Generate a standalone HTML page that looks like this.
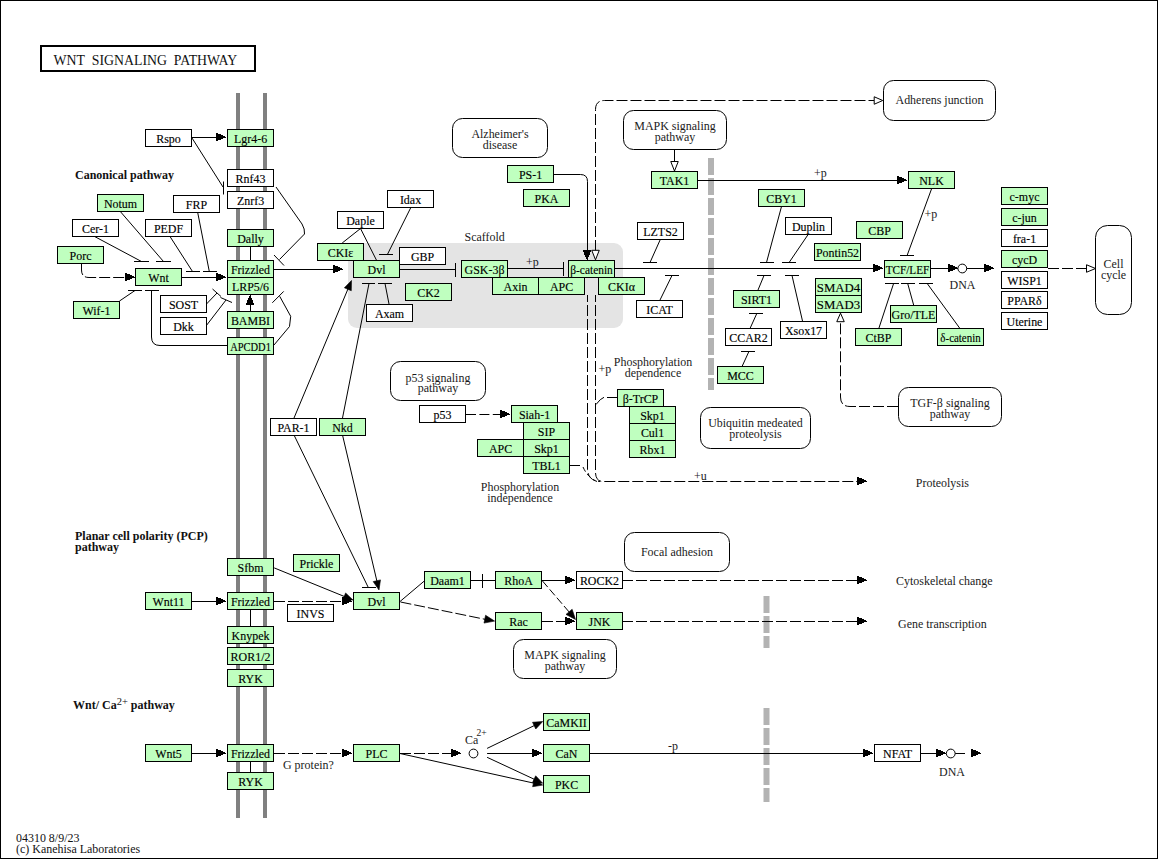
<!DOCTYPE html>
<html><head><meta charset="utf-8"><style>
html,body{margin:0;padding:0;background:#fff;}
svg{display:block;}
text{font-family:"Liberation Serif",serif;font-size:13px;}
.g{fill:#000;stroke:#000;stroke-width:0.15px;}
.m{fill:#1a1a1a;}
.l{fill:#1a1a1a;}
.b{font-size:12px;font-weight:bold;fill:#111;}
.f{fill:#111;}
.title{font-size:15px;fill:#111;}
</style></head><body>
<svg width="1158" height="859" viewBox="0 0 1158 859">
<rect x="0.5" y="0.5" width="1157" height="858" fill="#fff" stroke="#000" stroke-width="1"/>
<rect x="348" y="243" width="275" height="85" rx="9" ry="9" fill="#E4E4E4"/>
<rect x="236" y="93" width="4" height="725" fill="#808080"/>
<rect x="263" y="93" width="4" height="725" fill="#808080"/>
<path d="M711,158 L711,390" stroke="#B3B3B3" stroke-width="6" stroke-dasharray="17 3"/>
<path d="M766.5,596 L766.5,648" stroke="#B3B3B3" stroke-width="6" stroke-dasharray="17 3"/>
<path d="M766.5,708 L766.5,802" stroke="#B3B3B3" stroke-width="6" stroke-dasharray="17 3"/>
<rect x="41" y="46" width="214" height="25" fill="#fff" stroke="#000" stroke-width="2"/>
<text transform="translate(53.5,65) scale(0.92,1)" class="title">WNT&#160;&#160;SIGNALING&#160;&#160;PATHWAY</text>
<text x="75" y="179" class="b" text-anchor="start">Canonical pathway</text>
<text x="75" y="540" class="b" text-anchor="start">Planar cell polarity (PCP)</text>
<text x="75" y="551" class="b" text-anchor="start">pathway</text>
<text x="73" y="709" class="b">Wnt/ Ca<tspan dy="-4.5" style="font-size:10.5px;font-weight:normal">2+</tspan><tspan dy="4.5"> pathway</tspan></text>
<text transform="translate(16,842) scale(0.92,1)" class="f" text-anchor="start">04310 8/9/23</text>
<text transform="translate(16,853) scale(0.92,1)" class="f" text-anchor="start">(c) Kanehisa Laboratories</text>
<path d="M192,137.5 L216,137.5" fill="none" stroke="#000" stroke-width="1"/>
<path d="M216,133h1v8h-1zM217,133h1v8h-1zM218,134h1v6h-1zM219,134h1v6h-1zM220,134h1v6h-1zM221,135h1v4h-1zM222,135h1v4h-1zM223,136h1v2h-1zM224,136h1v2h-1zM225,137h1v1h-1z" fill="#000" shape-rendering="crispEdges"/>
<path d="M192,138 L223,187" fill="none" stroke="#000" stroke-width="1"/>
<path d="M223.5,181.5 L223.5,194.5" stroke="#000" stroke-width="1"/>
<path d="M276,187 L302,224 Q305,229 304.5,234 L279.5,259.5" fill="none" stroke="#000" stroke-width="1"/>
<path d="M274,255 L284,265.5" stroke="#000" stroke-width="1"/>
<path d="M120.3,211.5 L163.5,261.5" fill="none" stroke="#000" stroke-width="1"/>
<path d="M156,261.5 L171,261.5" stroke="#000" stroke-width="1"/>
<path d="M94.6,236.5 L141.5,261.5" fill="none" stroke="#000" stroke-width="1"/>
<path d="M134,261.5 L149,261.5" stroke="#000" stroke-width="1"/>
<path d="M170,236.5 L192.5,271.5" fill="none" stroke="#000" stroke-width="1"/>
<path d="M186,271.5 L200,271.5" stroke="#000" stroke-width="1"/>
<path d="M197.7,212.5 L209.3,271.5" fill="none" stroke="#000" stroke-width="1"/>
<path d="M203,271.5 L217,271.5" stroke="#000" stroke-width="1"/>
<path d="M81.5,264 L81.5,270 Q81.5,277.5 89,277.5 L125,277.5" fill="none" stroke="#000" stroke-width="1" stroke-dasharray="11 3"/>
<path d="M125,273h1v8h-1zM126,273h1v8h-1zM127,274h1v6h-1zM128,274h1v6h-1zM129,274h1v6h-1zM130,275h1v4h-1zM131,275h1v4h-1zM132,276h1v2h-1zM133,276h1v2h-1zM134,277h1v1h-1z" fill="#000" shape-rendering="crispEdges"/>
<path d="M182,277.5 L216,277.5" fill="none" stroke="#000" stroke-width="1"/>
<path d="M216,273h1v8h-1zM217,273h1v8h-1zM218,274h1v6h-1zM219,274h1v6h-1zM220,274h1v6h-1zM221,275h1v4h-1zM222,275h1v4h-1zM223,276h1v2h-1zM224,276h1v2h-1zM225,277h1v1h-1z" fill="#000" shape-rendering="crispEdges"/>
<path d="M250.5,246.5 L250.5,260" stroke="#000" stroke-width="1"/>
<path d="M250.5,304 L250.5,311" stroke="#000" stroke-width="1"/>
<path d="M246,304h8v1h-8zM246,303h8v1h-8zM247,302h6v1h-6zM247,301h6v1h-6zM247,300h6v1h-6zM248,299h4v1h-4zM248,298h4v1h-4zM249,297h2v1h-2zM249,296h2v1h-2zM250,295h1v1h-1z" fill="#000" shape-rendering="crispEdges"/>
<path d="M119.5,301 L135,290.5" fill="none" stroke="#000" stroke-width="1"/>
<path d="M128,290.5 L142,290.5" stroke="#000" stroke-width="1"/>
<path d="M227,345.5 L160,345.5 Q151.5,345.5 151.5,337 L151.5,290.5" fill="none" stroke="#000" stroke-width="1"/>
<path d="M145,290.5 L159,290.5" stroke="#000" stroke-width="1"/>
<path d="M206,304.5 L217,293" fill="none" stroke="#000" stroke-width="1"/>
<path d="M212.5,289 L221,296.5" stroke="#000" stroke-width="1"/>
<path d="M206,326 L226,300" fill="none" stroke="#000" stroke-width="1"/>
<path d="M220.5,297.5 L232,302.5" stroke="#000" stroke-width="1"/>
<path d="M274,345 L289.5,326.5 L290.7,316.3 L279.7,296.3" fill="none" stroke="#000" stroke-width="1"/>
<path d="M272.3,302.8 L283.7,291.4" stroke="#000" stroke-width="1"/>
<path d="M274,269.5 L333,269.5" fill="none" stroke="#000" stroke-width="1"/>
<path d="M333,265h1v8h-1zM334,265h1v8h-1zM335,266h1v6h-1zM336,266h1v6h-1zM337,266h1v6h-1zM338,267h1v4h-1zM339,267h1v4h-1zM340,268h1v2h-1zM341,268h1v2h-1zM342,269h1v1h-1z" fill="#000" shape-rendering="crispEdges"/>
<path d="M360.5,228.5 L342.2,243" fill="none" stroke="#000" stroke-width="1"/>
<path d="M360.5,228.5 L376.4,260" fill="none" stroke="#000" stroke-width="1"/>
<path d="M410.6,208 L387.4,254.5" fill="none" stroke="#000" stroke-width="1"/>
<path d="M379,254.5 L393,254.5" stroke="#000" stroke-width="1"/>
<path d="M400,269.5 L455,269.5" stroke="#000" stroke-width="1"/>
<path d="M455.5,263 L455.5,277" stroke="#000" stroke-width="1"/>
<path d="M508,268.5 L563,268.5" stroke="#000" stroke-width="1"/>
<path d="M563.5,262 L563.5,276" stroke="#000" stroke-width="1"/>
<text transform="translate(526,266) scale(0.92,1)" class="l" text-anchor="start">+p</text>
<path d="M554,174.5 L580.5,174.5 Q587.5,174.5 587.5,181.5 L587.5,251" fill="none" stroke="#000" stroke-width="1"/>
<path d="M583,250h8v1h-8zM583,251h8v1h-8zM584,252h6v1h-6zM584,253h6v1h-6zM584,254h6v1h-6zM585,255h4v1h-4zM585,256h4v1h-4zM586,257h2v1h-2zM586,258h2v1h-2zM587,259h1v1h-1z" fill="#000" shape-rendering="crispEdges"/>
<path d="M595.5,251 L595.5,109.5 Q595.5,100.5 604.5,100.5 L874,100.5" fill="none" stroke="#000" stroke-width="1" stroke-dasharray="11 3"/>
<polygon points="595.50,259.80 591.75,250.30 599.25,250.30" fill="#fff" stroke="#000" stroke-width="1"/>
<polygon points="882.70,100.50 874.20,104.25 874.20,96.75" fill="#fff" stroke="#000" stroke-width="1"/>
<path d="M674.5,150 L674.5,161.5" stroke="#000" stroke-width="1"/>
<polygon points="674.50,171.00 670.75,161.50 678.25,161.50" fill="#fff" stroke="#000" stroke-width="1"/>
<path d="M698,180.5 L897,180.5" fill="none" stroke="#000" stroke-width="1"/>
<path d="M897,176h1v8h-1zM898,176h1v8h-1zM899,177h1v6h-1zM900,177h1v6h-1zM901,177h1v6h-1zM902,178h1v4h-1zM903,178h1v4h-1zM904,179h1v2h-1zM905,179h1v2h-1zM906,180h1v1h-1z" fill="#000" shape-rendering="crispEdges"/>
<text transform="translate(814,177) scale(0.92,1)" class="l" text-anchor="start">+p</text>
<path d="M931.5,189 L907.1,255.5" fill="none" stroke="#000" stroke-width="1"/>
<path d="M900,255.5 L914,255.5" stroke="#000" stroke-width="1"/>
<text transform="translate(924.5,217.5) scale(0.92,1)" class="l" text-anchor="start">+p</text>
<path d="M615,268.5 L873,268.5" fill="none" stroke="#000" stroke-width="1"/>
<path d="M873,264h1v8h-1zM874,264h1v8h-1zM875,265h1v6h-1zM876,265h1v6h-1zM877,265h1v6h-1zM878,266h1v4h-1zM879,266h1v4h-1zM880,267h1v2h-1zM881,267h1v2h-1zM882,268h1v1h-1z" fill="#000" shape-rendering="crispEdges"/>
<path d="M660.3,239.5 L650,262.5" fill="none" stroke="#000" stroke-width="1"/>
<path d="M643,262.5 L657,262.5" stroke="#000" stroke-width="1"/>
<path d="M660,300 L672,275.5" fill="none" stroke="#000" stroke-width="1"/>
<path d="M665,275.5 L679,275.5" stroke="#000" stroke-width="1"/>
<path d="M781.5,206.5 L766.5,262.5" fill="none" stroke="#000" stroke-width="1"/>
<path d="M760,262.5 L774,262.5" stroke="#000" stroke-width="1"/>
<path d="M808.6,233.8 L789.1,262.5" fill="none" stroke="#000" stroke-width="1"/>
<path d="M782,262.5 L796,262.5" stroke="#000" stroke-width="1"/>
<path d="M758,290 L764,275.5" fill="none" stroke="#000" stroke-width="1"/>
<path d="M757,275.5 L771,275.5" stroke="#000" stroke-width="1"/>
<path d="M802.5,321 L792,275.5" fill="none" stroke="#000" stroke-width="1"/>
<path d="M785,275.5 L799,275.5" stroke="#000" stroke-width="1"/>
<path d="M750.1,328.3 L756.8,313.5" fill="none" stroke="#000" stroke-width="1"/>
<path d="M749,313.5 L763,313.5" stroke="#000" stroke-width="1"/>
<path d="M742.2,366.2 L748.9,351.5" fill="none" stroke="#000" stroke-width="1"/>
<path d="M741,351.5 L755,351.5" stroke="#000" stroke-width="1"/>
<path d="M931,268.5 L948,268.5" fill="none" stroke="#000" stroke-width="1"/>
<path d="M948,264h1v8h-1zM949,264h1v8h-1zM950,265h1v6h-1zM951,265h1v6h-1zM952,265h1v6h-1zM953,266h1v4h-1zM954,266h1v4h-1zM955,267h1v2h-1zM956,267h1v2h-1zM957,268h1v1h-1z" fill="#000" shape-rendering="crispEdges"/>
<circle cx="962.3" cy="268.5" r="4.4" fill="#fff" stroke="#000" stroke-width="1"/>
<path d="M966.7,268.5 L984,268.5" fill="none" stroke="#000" stroke-width="1"/>
<path d="M984,264h1v8h-1zM985,264h1v8h-1zM986,265h1v6h-1zM987,265h1v6h-1zM988,265h1v6h-1zM989,266h1v4h-1zM990,266h1v4h-1zM991,267h1v2h-1zM992,267h1v2h-1zM993,268h1v1h-1z" fill="#000" shape-rendering="crispEdges"/>
<text transform="translate(949.5,289) scale(0.92,1)" class="l" text-anchor="start">DNA</text>
<path d="M1048,268.5 L1087,268.5" fill="none" stroke="#000" stroke-width="1" stroke-dasharray="11 3"/>
<polygon points="1095.50,268.50 1086.50,272.25 1086.50,264.75" fill="#fff" stroke="#000" stroke-width="1"/>
<path d="M898,406.5 L850,406.5 Q840.5,406.5 840.5,397 L840.5,322" fill="none" stroke="#000" stroke-width="1" stroke-dasharray="11 3"/>
<polygon points="840.50,313.20 844.25,321.70 836.75,321.70" fill="#fff" stroke="#000" stroke-width="1"/>
<path d="M878.9,328.2 L893.6,283.5" fill="none" stroke="#000" stroke-width="1"/>
<path d="M885,283.5 L899,283.5" stroke="#000" stroke-width="1"/>
<path d="M913.8,305.6 L907.7,283.5" fill="none" stroke="#000" stroke-width="1"/>
<path d="M901,283.5 L915,283.5" stroke="#000" stroke-width="1"/>
<path d="M959.6,328 L927.2,283.5" fill="none" stroke="#000" stroke-width="1"/>
<path d="M919,283.5 L933,283.5" stroke="#000" stroke-width="1"/>
<path d="M389,304 L385,283.5" fill="none" stroke="#000" stroke-width="1"/>
<path d="M378,283.5 L392,283.5" stroke="#000" stroke-width="1"/>
<path d="M342.5,418 L369,283.5" fill="none" stroke="#000" stroke-width="1"/>
<path d="M362,283.5 L375,283.5" stroke="#000" stroke-width="1"/>
<path d="M294,418 L348.93,286.64" fill="none" stroke="#000" stroke-width="1"/>
<polygon points="351.50,280.50 351.29,290.71 344.38,287.82" fill="#000" stroke="#000" stroke-width="0.6"/>
<path d="M587.5,295 L587.5,469 Q588,481 600,481.5" fill="none" stroke="#000" stroke-dasharray="11 3" stroke-dashoffset="4"/>
<path d="M595.5,295 L595.5,473 Q596,481.5 603,481.5 L857,481.5" fill="none" stroke="#000" stroke-dasharray="11 3" stroke-dashoffset="4"/>
<path d="M857,477h1v8h-1zM858,477h1v8h-1zM859,478h1v6h-1zM860,478h1v6h-1zM861,478h1v6h-1zM862,479h1v4h-1zM863,479h1v4h-1zM864,480h1v2h-1zM865,480h1v2h-1zM866,481h1v1h-1z" fill="#000" shape-rendering="crispEdges"/>
<text transform="translate(598.5,373) scale(0.92,1)" class="l" text-anchor="start">+p</text>
<path d="M569.5,465.5 L580,465.5" stroke="#000" stroke-width="1"/>
<path d="M583,467 Q588,478 597,481.5" fill="none" stroke="#000" stroke-width="1" stroke-dasharray="5 3"/>
<path d="M617,397.5 L607,397.5 M604,397.3 Q600.5,398.5 596,404.5" fill="none" stroke="#000" stroke-width="1"/>
<path d="M466,414.5 L500,414.5" fill="none" stroke="#000" stroke-width="1" stroke-dasharray="10 3.4"/>
<path d="M500,410h1v8h-1zM501,410h1v8h-1zM502,411h1v6h-1zM503,411h1v6h-1zM504,411h1v6h-1zM505,412h1v4h-1zM506,412h1v4h-1zM507,413h1v2h-1zM508,413h1v2h-1zM509,414h1v1h-1z" fill="#000" shape-rendering="crispEdges"/>
<text transform="translate(694,480) scale(0.92,1)" class="l" text-anchor="start">+u</text>
<path d="M192,601.5 L216,601.5" fill="none" stroke="#000" stroke-width="1"/>
<path d="M216,597h1v8h-1zM217,597h1v8h-1zM218,598h1v6h-1zM219,598h1v6h-1zM220,598h1v6h-1zM221,599h1v4h-1zM222,599h1v4h-1zM223,600h1v2h-1zM224,600h1v2h-1zM225,601h1v1h-1z" fill="#000" shape-rendering="crispEdges"/>
<path d="M250.5,609.5 L250.5,626" stroke="#000" stroke-width="1"/>
<path d="M274,601.5 L342,601.5" fill="none" stroke="#000" stroke-width="1" stroke-dasharray="11 3"/>
<path d="M342,597h1v8h-1zM343,597h1v8h-1zM344,598h1v6h-1zM345,598h1v6h-1zM346,598h1v6h-1zM347,599h1v4h-1zM348,599h1v4h-1zM349,600h1v2h-1zM350,600h1v2h-1zM351,601h1v1h-1z" fill="#000" shape-rendering="crispEdges"/>
<path d="M274.2,567.9 L346.84,597.49" fill="none" stroke="#000" stroke-width="1"/>
<polygon points="353.00,600.00 342.79,599.89 345.62,592.94" fill="#000" stroke="#000" stroke-width="0.6"/>
<path d="M294,435 L368.3,587.5" fill="none" stroke="#000" stroke-width="1"/>
<path d="M362,587.5 L376,587.5" stroke="#000" stroke-width="1"/>
<path d="M342.5,435 L377.48,583.53" fill="none" stroke="#000" stroke-width="1"/>
<polygon points="379.00,590.00 373.17,581.61 380.47,579.89" fill="#000" stroke="#000" stroke-width="0.6"/>
<path d="M400,601.5 L424.3,581" fill="none" stroke="#000" stroke-width="1"/>
<path d="M471,580.5 L495,580.5" stroke="#000" stroke-width="1"/>
<path d="M482.5,574 L482.5,588" stroke="#000" stroke-width="1"/>
<path d="M542,580.5 L565,580.5" fill="none" stroke="#000" stroke-width="1"/>
<path d="M565,576h1v8h-1zM566,576h1v8h-1zM567,577h1v6h-1zM568,577h1v6h-1zM569,577h1v6h-1zM570,578h1v4h-1zM571,578h1v4h-1zM572,579h1v2h-1zM573,579h1v2h-1zM574,580h1v1h-1z" fill="#000" shape-rendering="crispEdges"/>
<path d="M542.5,581 L570,613" fill="none" stroke="#000" stroke-width="1" stroke-dasharray="8 3"/>
<polygon points="575.50,619.50 566.01,614.40 572.14,609.27" fill="#000" stroke="#000" stroke-width="0.6"/>
<path d="M400.5,602 L486,619.5" fill="none" stroke="#000" stroke-width="1" stroke-dasharray="11 3"/>
<polygon points="494.60,621.10 484.01,623.08 485.57,615.23" fill="#000" stroke="#000" stroke-width="0.6"/>
<path d="M542,621.5 L565,621.5" fill="none" stroke="#000" stroke-width="1" stroke-dasharray="11 3"/>
<path d="M565,617h1v8h-1zM566,617h1v8h-1zM567,618h1v6h-1zM568,618h1v6h-1zM569,618h1v6h-1zM570,619h1v4h-1zM571,619h1v4h-1zM572,620h1v2h-1zM573,620h1v2h-1zM574,621h1v1h-1z" fill="#000" shape-rendering="crispEdges"/>
<path d="M622,580.5 L857,580.5" fill="none" stroke="#000" stroke-width="1" stroke-dasharray="11 3"/>
<path d="M857,576h1v8h-1zM858,576h1v8h-1zM859,577h1v6h-1zM860,577h1v6h-1zM861,577h1v6h-1zM862,578h1v4h-1zM863,578h1v4h-1zM864,579h1v2h-1zM865,579h1v2h-1zM866,580h1v1h-1z" fill="#000" shape-rendering="crispEdges"/>
<path d="M622,621.5 L857,621.5" fill="none" stroke="#000" stroke-width="1" stroke-dasharray="11 3"/>
<path d="M857,617h1v8h-1zM858,617h1v8h-1zM859,618h1v6h-1zM860,618h1v6h-1zM861,618h1v6h-1zM862,619h1v4h-1zM863,619h1v4h-1zM864,620h1v2h-1zM865,620h1v2h-1zM866,621h1v1h-1z" fill="#000" shape-rendering="crispEdges"/>
<path d="M192,753.5 L216,753.5" fill="none" stroke="#000" stroke-width="1"/>
<path d="M216,749h1v8h-1zM217,749h1v8h-1zM218,750h1v6h-1zM219,750h1v6h-1zM220,750h1v6h-1zM221,751h1v4h-1zM222,751h1v4h-1zM223,752h1v2h-1zM224,752h1v2h-1zM225,753h1v1h-1z" fill="#000" shape-rendering="crispEdges"/>
<path d="M250.5,761.5 L250.5,772" stroke="#000" stroke-width="1"/>
<path d="M274,753.5 L342,753.5" fill="none" stroke="#000" stroke-width="1" stroke-dasharray="11 3"/>
<path d="M342,749h1v8h-1zM343,749h1v8h-1zM344,750h1v6h-1zM345,750h1v6h-1zM346,750h1v6h-1zM347,751h1v4h-1zM348,751h1v4h-1zM349,752h1v2h-1zM350,752h1v2h-1zM351,753h1v1h-1z" fill="#000" shape-rendering="crispEdges"/>
<path d="M400,753.5 L451,753.5" fill="none" stroke="#000" stroke-width="1" stroke-dasharray="11 3"/>
<path d="M451,749h1v8h-1zM452,749h1v8h-1zM453,750h1v6h-1zM454,750h1v6h-1zM455,750h1v6h-1zM456,751h1v4h-1zM457,751h1v4h-1zM458,752h1v2h-1zM459,752h1v2h-1zM460,753h1v1h-1z" fill="#000" shape-rendering="crispEdges"/>
<circle cx="473.5" cy="753.5" r="4.4" fill="#fff" stroke="#000" stroke-width="1"/>
<path d="M400,753.5 L536.21,783.66" fill="none" stroke="#000" stroke-width="1"/>
<polygon points="542.70,785.10 532.61,786.71 534.24,779.38" fill="#000" stroke="#000" stroke-width="0.6"/>
<path d="M487.1,748.4 L536.71,724.4" fill="none" stroke="#000" stroke-width="1"/>
<polygon points="542.70,721.50 535.78,729.01 532.52,722.26" fill="#000" stroke="#000" stroke-width="0.6"/>
<path d="M487.1,753.5 L532,753.5" fill="none" stroke="#000" stroke-width="1"/>
<path d="M532,749h1v8h-1zM533,749h1v8h-1zM534,750h1v6h-1zM535,750h1v6h-1zM536,750h1v6h-1zM537,751h1v4h-1zM538,751h1v4h-1zM539,752h1v2h-1zM540,752h1v2h-1zM541,753h1v1h-1z" fill="#000" shape-rendering="crispEdges"/>
<path d="M487.1,757.3 L536.67,780.39" fill="none" stroke="#000" stroke-width="1"/>
<polygon points="542.70,783.20 532.51,782.59 535.67,775.79" fill="#000" stroke="#000" stroke-width="0.6"/>
<path d="M590,753.5 L863,753.5" fill="none" stroke="#000" stroke-width="1"/>
<path d="M863,749h1v8h-1zM864,749h1v8h-1zM865,750h1v6h-1zM866,750h1v6h-1zM867,750h1v6h-1zM868,751h1v4h-1zM869,751h1v4h-1zM870,752h1v2h-1zM871,752h1v2h-1zM872,753h1v1h-1z" fill="#000" shape-rendering="crispEdges"/>
<text transform="translate(668,749.5) scale(0.92,1)" class="l" text-anchor="start">-p</text>
<path d="M921,753.5 L936,753.5" fill="none" stroke="#000" stroke-width="1"/>
<path d="M936,749h1v8h-1zM937,749h1v8h-1zM938,750h1v6h-1zM939,750h1v6h-1zM940,750h1v6h-1zM941,751h1v4h-1zM942,751h1v4h-1zM943,752h1v2h-1zM944,752h1v2h-1zM945,753h1v1h-1z" fill="#000" shape-rendering="crispEdges"/>
<circle cx="950.75" cy="753.5" r="4.4" fill="#fff" stroke="#000" stroke-width="1"/>
<path d="M955.2,753.5 L965,753.5" stroke="#000" stroke-width="1"/>
<path d="M971,749h1v8h-1zM972,749h1v8h-1zM973,750h1v6h-1zM974,750h1v6h-1zM975,750h1v6h-1zM976,751h1v4h-1zM977,751h1v4h-1zM978,752h1v2h-1zM979,752h1v2h-1zM980,753h1v1h-1z" fill="#000" shape-rendering="crispEdges"/>
<text transform="translate(939,776) scale(0.92,1)" class="l" text-anchor="start">DNA</text>
<text transform="translate(283,768.5) scale(0.92,1)" class="l" text-anchor="start">G protein?</text>
<text transform="translate(465,743.5) scale(0.92,1)" class="l" text-anchor="start">Ca</text>
<text transform="translate(476.5,736) scale(0.92,1)" class="l" style="font-size:10.5px">2+</text>
<rect x="145.5" y="129.5" width="46" height="17" fill="#FFFFFF" stroke="#000" stroke-width="1"/>
<text transform="translate(168.5,143.3) scale(0.92,1)" text-anchor="middle" class="g">Rspo</text>
<rect x="227.5" y="129.5" width="46" height="17" fill="#BFFFBF" stroke="#000" stroke-width="1"/>
<text transform="translate(250.5,143.3) scale(0.92,1)" text-anchor="middle" class="g">Lgr4-6</text>
<rect x="227.5" y="169.5" width="46" height="17" fill="#FFFFFF" stroke="#000" stroke-width="1"/>
<text transform="translate(250.5,183.3) scale(0.92,1)" text-anchor="middle" class="g">Rnf43</text>
<rect x="227.5" y="191.5" width="46" height="17" fill="#FFFFFF" stroke="#000" stroke-width="1"/>
<text transform="translate(250.5,205.3) scale(0.92,1)" text-anchor="middle" class="g">Znrf3</text>
<rect x="97.5" y="194.5" width="46" height="17" fill="#BFFFBF" stroke="#000" stroke-width="1"/>
<text transform="translate(120.5,208.3) scale(0.92,1)" text-anchor="middle" class="g">Notum</text>
<rect x="173.5" y="195.5" width="46" height="17" fill="#FFFFFF" stroke="#000" stroke-width="1"/>
<text transform="translate(196.5,209.3) scale(0.92,1)" text-anchor="middle" class="g">FRP</text>
<rect x="72.5" y="219.5" width="46" height="17" fill="#FFFFFF" stroke="#000" stroke-width="1"/>
<text transform="translate(95.5,233.3) scale(0.92,1)" text-anchor="middle" class="g">Cer-1</text>
<rect x="145.5" y="219.5" width="46" height="17" fill="#FFFFFF" stroke="#000" stroke-width="1"/>
<text transform="translate(168.5,233.3) scale(0.92,1)" text-anchor="middle" class="g">PEDF</text>
<rect x="227.5" y="229.5" width="46" height="17" fill="#BFFFBF" stroke="#000" stroke-width="1"/>
<text transform="translate(250.5,243.3) scale(0.92,1)" text-anchor="middle" class="g">Dally</text>
<rect x="57.5" y="246.5" width="46" height="17" fill="#BFFFBF" stroke="#000" stroke-width="1"/>
<text transform="translate(80.5,260.3) scale(0.92,1)" text-anchor="middle" class="g">Porc</text>
<rect x="135.5" y="268.5" width="46" height="17" fill="#BFFFBF" stroke="#000" stroke-width="1"/>
<text transform="translate(158.5,282.3) scale(0.92,1)" text-anchor="middle" class="g">Wnt</text>
<rect x="227.5" y="260.5" width="46" height="17" fill="#BFFFBF" stroke="#000" stroke-width="1"/>
<text transform="translate(250.5,274.3) scale(0.92,1)" text-anchor="middle" class="g">Frizzled</text>
<rect x="227.5" y="277.5" width="46" height="17" fill="#BFFFBF" stroke="#000" stroke-width="1"/>
<text transform="translate(250.5,291.3) scale(0.92,1)" text-anchor="middle" class="g">LRP5/6</text>
<rect x="160.5" y="295.5" width="46" height="17" fill="#FFFFFF" stroke="#000" stroke-width="1"/>
<text transform="translate(183.5,309.3) scale(0.92,1)" text-anchor="middle" class="g">SOST</text>
<rect x="160.5" y="317.5" width="46" height="17" fill="#FFFFFF" stroke="#000" stroke-width="1"/>
<text transform="translate(183.5,331.3) scale(0.92,1)" text-anchor="middle" class="g">Dkk</text>
<rect x="73.5" y="301.5" width="46" height="17" fill="#BFFFBF" stroke="#000" stroke-width="1"/>
<text transform="translate(96.5,315.3) scale(0.92,1)" text-anchor="middle" class="g">Wif-1</text>
<rect x="227.5" y="311.5" width="46" height="17" fill="#BFFFBF" stroke="#000" stroke-width="1"/>
<text transform="translate(250.5,325.3) scale(0.92,1)" text-anchor="middle" class="g">BAMBI</text>
<rect x="227.5" y="337.5" width="46" height="17" fill="#BFFFBF" stroke="#000" stroke-width="1"/>
<text transform="translate(250.5,351.3) scale(0.806,1)" text-anchor="middle" class="g">APCDD1</text>
<rect x="317.5" y="243.5" width="46" height="17" fill="#BFFFBF" stroke="#000" stroke-width="1"/>
<text transform="translate(340.5,257.3) scale(0.92,1)" text-anchor="middle" class="g">CKIε</text>
<rect x="337.5" y="211.5" width="46" height="17" fill="#FFFFFF" stroke="#000" stroke-width="1"/>
<text transform="translate(360.5,225.3) scale(0.92,1)" text-anchor="middle" class="g">Daple</text>
<rect x="387.5" y="190.5" width="46" height="17" fill="#FFFFFF" stroke="#000" stroke-width="1"/>
<text transform="translate(410.5,204.3) scale(0.92,1)" text-anchor="middle" class="g">Idax</text>
<rect x="399.5" y="247.5" width="46" height="17" fill="#FFFFFF" stroke="#000" stroke-width="1"/>
<text transform="translate(422.5,261.3) scale(0.92,1)" text-anchor="middle" class="g">GBP</text>
<rect x="353.5" y="260.5" width="46" height="17" fill="#BFFFBF" stroke="#000" stroke-width="1"/>
<text transform="translate(376.5,274.3) scale(0.92,1)" text-anchor="middle" class="g">Dvl</text>
<rect x="405.5" y="283.5" width="46" height="17" fill="#BFFFBF" stroke="#000" stroke-width="1"/>
<text transform="translate(428.5,297.3) scale(0.92,1)" text-anchor="middle" class="g">CK2</text>
<rect x="366.5" y="304.5" width="46" height="17" fill="#FFFFFF" stroke="#000" stroke-width="1"/>
<text transform="translate(389.5,318.3) scale(0.92,1)" text-anchor="middle" class="g">Axam</text>
<rect x="461.5" y="260.5" width="46" height="17" fill="#BFFFBF" stroke="#000" stroke-width="1"/>
<text transform="translate(484.5,274.3) scale(0.92,1)" text-anchor="middle" class="g">GSK-3β</text>
<rect x="492.5" y="277.5" width="46" height="17" fill="#BFFFBF" stroke="#000" stroke-width="1"/>
<text transform="translate(515.5,291.3) scale(0.92,1)" text-anchor="middle" class="g">Axin</text>
<rect x="538.5" y="277.5" width="46" height="17" fill="#BFFFBF" stroke="#000" stroke-width="1"/>
<text transform="translate(561.5,291.3) scale(0.92,1)" text-anchor="middle" class="g">APC</text>
<rect x="568.5" y="260.5" width="46" height="17" fill="#BFFFBF" stroke="#000" stroke-width="1"/>
<text transform="translate(591.5,274.3) scale(0.88,1)" text-anchor="middle" class="g">β-catenin</text>
<rect x="598.5" y="277.5" width="46" height="17" fill="#BFFFBF" stroke="#000" stroke-width="1"/>
<text transform="translate(621.5,291.3) scale(0.92,1)" text-anchor="middle" class="g">CKIα</text>
<rect x="507.5" y="165.5" width="46" height="17" fill="#BFFFBF" stroke="#000" stroke-width="1"/>
<text transform="translate(530.5,179.3) scale(0.92,1)" text-anchor="middle" class="g">PS-1</text>
<rect x="523.5" y="189.5" width="46" height="17" fill="#BFFFBF" stroke="#000" stroke-width="1"/>
<text transform="translate(546.5,203.3) scale(0.92,1)" text-anchor="middle" class="g">PKA</text>
<rect x="651.5" y="171.5" width="46" height="17" fill="#BFFFBF" stroke="#000" stroke-width="1"/>
<text transform="translate(674.5,185.3) scale(0.92,1)" text-anchor="middle" class="g">TAK1</text>
<rect x="908.5" y="171.5" width="46" height="17" fill="#BFFFBF" stroke="#000" stroke-width="1"/>
<text transform="translate(931.5,185.3) scale(0.92,1)" text-anchor="middle" class="g">NLK</text>
<rect x="637.5" y="222.5" width="46" height="17" fill="#FFFFFF" stroke="#000" stroke-width="1"/>
<text transform="translate(660.5,236.3) scale(0.92,1)" text-anchor="middle" class="g">LZTS2</text>
<rect x="636.5" y="300.5" width="46" height="17" fill="#FFFFFF" stroke="#000" stroke-width="1"/>
<text transform="translate(659.5,314.3) scale(0.92,1)" text-anchor="middle" class="g">ICAT</text>
<rect x="758.5" y="189.5" width="46" height="17" fill="#BFFFBF" stroke="#000" stroke-width="1"/>
<text transform="translate(781.5,203.3) scale(0.92,1)" text-anchor="middle" class="g">CBY1</text>
<rect x="785.5" y="217.5" width="46" height="17" fill="#FFFFFF" stroke="#000" stroke-width="1"/>
<text transform="translate(808.5,231.3) scale(0.92,1)" text-anchor="middle" class="g">Duplin</text>
<rect x="856.5" y="221.5" width="46" height="17" fill="#BFFFBF" stroke="#000" stroke-width="1"/>
<text transform="translate(879.5,235.3) scale(0.92,1)" text-anchor="middle" class="g">CBP</text>
<rect x="814.5" y="243.5" width="46" height="17" fill="#BFFFBF" stroke="#000" stroke-width="1"/>
<text transform="translate(837.5,257.3) scale(0.92,1)" text-anchor="middle" class="g">Pontin52</text>
<rect x="884.5" y="260.5" width="46" height="17" fill="#BFFFBF" stroke="#000" stroke-width="1"/>
<text transform="translate(907.5,274.3) scale(0.864,1)" text-anchor="middle" class="g">TCF/LEF</text>
<rect x="815.5" y="278.5" width="46" height="17" fill="#BFFFBF" stroke="#000" stroke-width="1"/>
<text transform="translate(838.5,292.3) scale(0.987,1)" text-anchor="middle" class="g">SMAD4</text>
<rect x="815.5" y="295.5" width="46" height="17" fill="#BFFFBF" stroke="#000" stroke-width="1"/>
<text transform="translate(838.5,309.3) scale(0.987,1)" text-anchor="middle" class="g">SMAD3</text>
<rect x="733.5" y="290.5" width="46" height="17" fill="#BFFFBF" stroke="#000" stroke-width="1"/>
<text transform="translate(756.5,304.3) scale(0.92,1)" text-anchor="middle" class="g">SIRT1</text>
<rect x="725.5" y="328.5" width="46" height="17" fill="#FFFFFF" stroke="#000" stroke-width="1"/>
<text transform="translate(748.5,342.3) scale(0.92,1)" text-anchor="middle" class="g">CCAR2</text>
<rect x="717.5" y="366.5" width="46" height="17" fill="#BFFFBF" stroke="#000" stroke-width="1"/>
<text transform="translate(740.5,380.3) scale(0.92,1)" text-anchor="middle" class="g">MCC</text>
<rect x="780.5" y="321.5" width="46" height="17" fill="#FFFFFF" stroke="#000" stroke-width="1"/>
<text transform="translate(803.5,335.3) scale(0.92,1)" text-anchor="middle" class="g">Xsox17</text>
<rect x="855.5" y="328.5" width="46" height="17" fill="#BFFFBF" stroke="#000" stroke-width="1"/>
<text transform="translate(878.5,342.3) scale(0.92,1)" text-anchor="middle" class="g">CtBP</text>
<rect x="890.5" y="305.5" width="46" height="17" fill="#BFFFBF" stroke="#000" stroke-width="1"/>
<text transform="translate(913.5,319.3) scale(0.92,1)" text-anchor="middle" class="g">Gro/TLE</text>
<rect x="937.5" y="328.5" width="46" height="17" fill="#BFFFBF" stroke="#000" stroke-width="1"/>
<text transform="translate(960.5,342.3) scale(0.841,1)" text-anchor="middle" class="g">δ-catenin</text>
<rect x="1001.5" y="187.5" width="46" height="17" fill="#BFFFBF" stroke="#000" stroke-width="1"/>
<text transform="translate(1024.5,201.3) scale(0.92,1)" text-anchor="middle" class="g">c-myc</text>
<rect x="1001.5" y="208.5" width="46" height="17" fill="#BFFFBF" stroke="#000" stroke-width="1"/>
<text transform="translate(1024.5,222.3) scale(0.92,1)" text-anchor="middle" class="g">c-jun</text>
<rect x="1001.5" y="229.5" width="46" height="17" fill="#FFFFFF" stroke="#000" stroke-width="1"/>
<text transform="translate(1024.5,243.3) scale(0.92,1)" text-anchor="middle" class="g">fra-1</text>
<rect x="1001.5" y="250.5" width="46" height="17" fill="#BFFFBF" stroke="#000" stroke-width="1"/>
<text transform="translate(1024.5,264.3) scale(0.92,1)" text-anchor="middle" class="g">cycD</text>
<rect x="1001.5" y="271.5" width="46" height="17" fill="#FFFFFF" stroke="#000" stroke-width="1"/>
<text transform="translate(1024.5,285.3) scale(0.92,1)" text-anchor="middle" class="g">WISP1</text>
<rect x="1001.5" y="291.5" width="46" height="17" fill="#FFFFFF" stroke="#000" stroke-width="1"/>
<text transform="translate(1024.5,305.3) scale(0.92,1)" text-anchor="middle" class="g">PPARδ</text>
<rect x="1001.5" y="312.5" width="46" height="17" fill="#FFFFFF" stroke="#000" stroke-width="1"/>
<text transform="translate(1024.5,326.3) scale(0.92,1)" text-anchor="middle" class="g">Uterine</text>
<rect x="270.5" y="418.5" width="46" height="17" fill="#FFFFFF" stroke="#000" stroke-width="1"/>
<text transform="translate(293.5,432.3) scale(0.92,1)" text-anchor="middle" class="g">PAR-1</text>
<rect x="319.5" y="418.5" width="46" height="17" fill="#BFFFBF" stroke="#000" stroke-width="1"/>
<text transform="translate(342.5,432.3) scale(0.92,1)" text-anchor="middle" class="g">Nkd</text>
<rect x="419.5" y="405.5" width="46" height="17" fill="#FFFFFF" stroke="#000" stroke-width="1"/>
<text transform="translate(442.5,419.3) scale(0.92,1)" text-anchor="middle" class="g">p53</text>
<rect x="511.5" y="405.5" width="46" height="17" fill="#BFFFBF" stroke="#000" stroke-width="1"/>
<text transform="translate(534.5,419.3) scale(0.92,1)" text-anchor="middle" class="g">Siah-1</text>
<rect x="523.5" y="422.5" width="46" height="17" fill="#BFFFBF" stroke="#000" stroke-width="1"/>
<text transform="translate(546.5,436.3) scale(0.92,1)" text-anchor="middle" class="g">SIP</text>
<rect x="477.5" y="439.5" width="46" height="17" fill="#BFFFBF" stroke="#000" stroke-width="1"/>
<text transform="translate(500.5,453.3) scale(0.92,1)" text-anchor="middle" class="g">APC</text>
<rect x="523.5" y="439.5" width="46" height="17" fill="#BFFFBF" stroke="#000" stroke-width="1"/>
<text transform="translate(546.5,453.3) scale(0.92,1)" text-anchor="middle" class="g">Skp1</text>
<rect x="523.5" y="456.5" width="46" height="17" fill="#BFFFBF" stroke="#000" stroke-width="1"/>
<text transform="translate(546.5,470.3) scale(0.92,1)" text-anchor="middle" class="g">TBL1</text>
<rect x="617.5" y="389.5" width="46" height="17" fill="#BFFFBF" stroke="#000" stroke-width="1"/>
<text transform="translate(640.5,403.3) scale(0.92,1)" text-anchor="middle" class="g">β-TrCP</text>
<rect x="629.5" y="406.5" width="46" height="17" fill="#BFFFBF" stroke="#000" stroke-width="1"/>
<text transform="translate(652.5,420.3) scale(0.92,1)" text-anchor="middle" class="g">Skp1</text>
<rect x="629.5" y="423.5" width="46" height="17" fill="#BFFFBF" stroke="#000" stroke-width="1"/>
<text transform="translate(652.5,437.3) scale(0.92,1)" text-anchor="middle" class="g">Cul1</text>
<rect x="629.5" y="440.5" width="46" height="17" fill="#BFFFBF" stroke="#000" stroke-width="1"/>
<text transform="translate(652.5,454.3) scale(0.92,1)" text-anchor="middle" class="g">Rbx1</text>
<rect x="227.5" y="558.5" width="46" height="17" fill="#BFFFBF" stroke="#000" stroke-width="1"/>
<text transform="translate(250.5,572.3) scale(0.92,1)" text-anchor="middle" class="g">Sfbm</text>
<rect x="293.5" y="554.5" width="46" height="17" fill="#BFFFBF" stroke="#000" stroke-width="1"/>
<text transform="translate(316.5,568.3) scale(0.92,1)" text-anchor="middle" class="g">Prickle</text>
<rect x="145.5" y="592.5" width="46" height="17" fill="#BFFFBF" stroke="#000" stroke-width="1"/>
<text transform="translate(168.5,606.3) scale(0.92,1)" text-anchor="middle" class="g">Wnt11</text>
<rect x="227.5" y="592.5" width="46" height="17" fill="#BFFFBF" stroke="#000" stroke-width="1"/>
<text transform="translate(250.5,606.3) scale(0.92,1)" text-anchor="middle" class="g">Frizzled</text>
<rect x="287.5" y="604.5" width="46" height="17" fill="#FFFFFF" stroke="#000" stroke-width="1"/>
<text transform="translate(310.5,618.3) scale(0.92,1)" text-anchor="middle" class="g">INVS</text>
<rect x="353.5" y="592.5" width="46" height="17" fill="#BFFFBF" stroke="#000" stroke-width="1"/>
<text transform="translate(376.5,606.3) scale(0.92,1)" text-anchor="middle" class="g">Dvl</text>
<rect x="227.5" y="626.5" width="46" height="17" fill="#BFFFBF" stroke="#000" stroke-width="1"/>
<text transform="translate(250.5,640.3) scale(0.92,1)" text-anchor="middle" class="g">Knypek</text>
<rect x="227.5" y="647.5" width="46" height="17" fill="#BFFFBF" stroke="#000" stroke-width="1"/>
<text transform="translate(250.5,661.3) scale(0.92,1)" text-anchor="middle" class="g">ROR1/2</text>
<rect x="227.5" y="669.5" width="46" height="17" fill="#BFFFBF" stroke="#000" stroke-width="1"/>
<text transform="translate(250.5,683.3) scale(0.92,1)" text-anchor="middle" class="g">RYK</text>
<rect x="424.5" y="571.5" width="46" height="17" fill="#BFFFBF" stroke="#000" stroke-width="1"/>
<text transform="translate(447.5,585.3) scale(0.92,1)" text-anchor="middle" class="g">Daam1</text>
<rect x="495.5" y="571.5" width="46" height="17" fill="#BFFFBF" stroke="#000" stroke-width="1"/>
<text transform="translate(518.5,585.3) scale(0.92,1)" text-anchor="middle" class="g">RhoA</text>
<rect x="576.5" y="571.5" width="46" height="17" fill="#FFFFFF" stroke="#000" stroke-width="1"/>
<text transform="translate(599.5,585.3) scale(0.92,1)" text-anchor="middle" class="g">ROCK2</text>
<rect x="495.5" y="612.5" width="46" height="17" fill="#BFFFBF" stroke="#000" stroke-width="1"/>
<text transform="translate(518.5,626.3) scale(0.92,1)" text-anchor="middle" class="g">Rac</text>
<rect x="576.5" y="612.5" width="46" height="17" fill="#BFFFBF" stroke="#000" stroke-width="1"/>
<text transform="translate(599.5,626.3) scale(0.92,1)" text-anchor="middle" class="g">JNK</text>
<rect x="145.5" y="744.5" width="46" height="17" fill="#BFFFBF" stroke="#000" stroke-width="1"/>
<text transform="translate(168.5,758.3) scale(0.92,1)" text-anchor="middle" class="g">Wnt5</text>
<rect x="227.5" y="744.5" width="46" height="17" fill="#BFFFBF" stroke="#000" stroke-width="1"/>
<text transform="translate(250.5,758.3) scale(0.92,1)" text-anchor="middle" class="g">Frizzled</text>
<rect x="227.5" y="772.5" width="46" height="17" fill="#BFFFBF" stroke="#000" stroke-width="1"/>
<text transform="translate(250.5,786.3) scale(0.92,1)" text-anchor="middle" class="g">RYK</text>
<rect x="353.5" y="744.5" width="46" height="17" fill="#BFFFBF" stroke="#000" stroke-width="1"/>
<text transform="translate(376.5,758.3) scale(0.92,1)" text-anchor="middle" class="g">PLC</text>
<rect x="543.5" y="713.5" width="46" height="17" fill="#BFFFBF" stroke="#000" stroke-width="1"/>
<text transform="translate(566.5,727.3) scale(0.92,1)" text-anchor="middle" class="g">CaMKII</text>
<rect x="543.5" y="744.5" width="46" height="17" fill="#BFFFBF" stroke="#000" stroke-width="1"/>
<text transform="translate(566.5,758.3) scale(0.92,1)" text-anchor="middle" class="g">CaN</text>
<rect x="543.5" y="775.5" width="46" height="17" fill="#BFFFBF" stroke="#000" stroke-width="1"/>
<text transform="translate(566.5,789.3) scale(0.92,1)" text-anchor="middle" class="g">PKC</text>
<rect x="874.5" y="744.5" width="46" height="17" fill="#FFFFFF" stroke="#000" stroke-width="1"/>
<text transform="translate(897.5,758.3) scale(0.92,1)" text-anchor="middle" class="g">NFAT</text>
<rect x="452.5" y="118.5" width="95" height="39" rx="10" ry="10" fill="#fff" stroke="#000" stroke-width="1"/>
<text transform="translate(500.0,138) scale(0.92,1)" text-anchor="middle" class="m">Alzheimer's</text>
<text transform="translate(500.0,149) scale(0.92,1)" text-anchor="middle" class="m">disease</text>
<rect x="623.5" y="110.5" width="103" height="39" rx="10" ry="10" fill="#fff" stroke="#000" stroke-width="1"/>
<text transform="translate(675.0,130) scale(0.92,1)" text-anchor="middle" class="m">MAPK signaling</text>
<text transform="translate(675.0,141) scale(0.92,1)" text-anchor="middle" class="m">pathway</text>
<rect x="883.5" y="80.5" width="112" height="40" rx="10" ry="10" fill="#fff" stroke="#000" stroke-width="1"/>
<text transform="translate(939.5,104) scale(0.92,1)" text-anchor="middle" class="m">Adherens junction</text>
<rect x="1095.5" y="225.5" width="36" height="89" rx="12" ry="12" fill="#fff" stroke="#000" stroke-width="1"/>
<text transform="translate(1113.5,267.5) scale(0.92,1)" text-anchor="middle" class="m">Cell</text>
<text transform="translate(1113.5,278.5) scale(0.92,1)" text-anchor="middle" class="m">cycle</text>
<rect x="390.5" y="361.5" width="95" height="39" rx="10" ry="10" fill="#fff" stroke="#000" stroke-width="1"/>
<text transform="translate(438.0,381.5) scale(0.92,1)" text-anchor="middle" class="m">p53 signaling</text>
<text transform="translate(438.0,392) scale(0.92,1)" text-anchor="middle" class="m">pathway</text>
<rect x="700.5" y="407.5" width="110" height="41" rx="10" ry="10" fill="#fff" stroke="#000" stroke-width="1"/>
<text transform="translate(755.5,427) scale(0.92,1)" text-anchor="middle" class="m">Ubiquitin medeated</text>
<text transform="translate(755.5,437.5) scale(0.92,1)" text-anchor="middle" class="m">proteolysis</text>
<rect x="898.5" y="387.5" width="103" height="39" rx="10" ry="10" fill="#fff" stroke="#000" stroke-width="1"/>
<text transform="translate(950.0,406.5) scale(0.92,1)" text-anchor="middle" class="m">TGF-β signaling</text>
<text transform="translate(950.0,417.5) scale(0.92,1)" text-anchor="middle" class="m">pathway</text>
<rect x="624.5" y="532.5" width="105" height="39" rx="10" ry="10" fill="#fff" stroke="#000" stroke-width="1"/>
<text transform="translate(677.0,556) scale(0.92,1)" text-anchor="middle" class="m">Focal adhesion</text>
<rect x="513.5" y="639.5" width="103" height="39" rx="10" ry="10" fill="#fff" stroke="#000" stroke-width="1"/>
<text transform="translate(565.0,658.5) scale(0.92,1)" text-anchor="middle" class="m">MAPK signaling</text>
<text transform="translate(565.0,669.5) scale(0.92,1)" text-anchor="middle" class="m">pathway</text>
<text transform="translate(464.5,241) scale(0.92,1)" class="l" text-anchor="start">Scaffold</text>
<text transform="translate(653,366) scale(0.92,1)" class="l" text-anchor="middle">Phosphorylation</text>
<text transform="translate(653,377) scale(0.92,1)" class="l" text-anchor="middle">dependence</text>
<text transform="translate(520,491) scale(0.92,1)" class="l" text-anchor="middle">Phosphorylation</text>
<text transform="translate(520,502) scale(0.92,1)" class="l" text-anchor="middle">independence</text>
<text transform="translate(915.8,487) scale(0.92,1)" class="l" text-anchor="start">Proteolysis</text>
<text transform="translate(896,584.5) scale(0.92,1)" class="l" text-anchor="start">Cytoskeletal change</text>
<text transform="translate(898,627.5) scale(0.92,1)" class="l" text-anchor="start">Gene transcription</text>
</svg>
</body></html>
